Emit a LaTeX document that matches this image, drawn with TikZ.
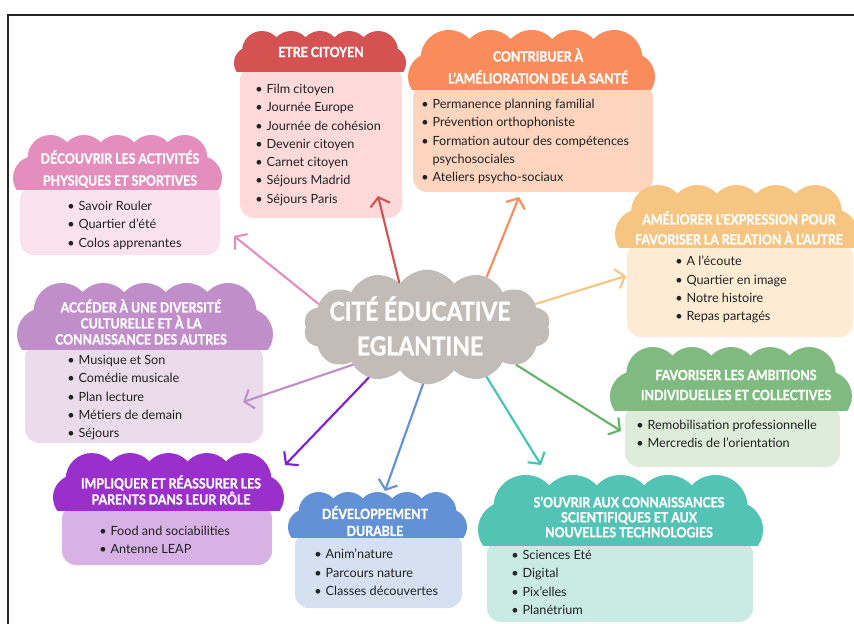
\documentclass[tikz,border=0pt]{standalone}
\usepackage{fontspec}
\setmainfont{Lato}
\newfontfamily\headfont[FakeStretch=0.88, BoldFeatures={FakeBold=1.2}]{Lato}
\usetikzlibrary{arrows.meta, positioning, fit, shapes.symbols}

% colours of the nine themes
\definecolor{citoyenHead}{HTML}{D45252}\definecolor{citoyenBody}{HTML}{FDD9D9}
\definecolor{santeHead}{HTML}{FA8B5B}\definecolor{santeBody}{HTML}{FDD4BE}
\definecolor{sportHead}{HTML}{E38EBC}\definecolor{sportBody}{HTML}{FAE2ED}
\definecolor{exprHead}{HTML}{F6C581}\definecolor{exprBody}{HTML}{FEEBD3}
\definecolor{cultHead}{HTML}{C08EC8}\definecolor{cultBody}{HTML}{EBDCEC}
\definecolor{ambHead}{HTML}{7FBA80}\definecolor{ambBody}{HTML}{DDEDD9}
\definecolor{parHead}{HTML}{9A30CC}\definecolor{parBody}{HTML}{D9B2E5}
\definecolor{durHead}{HTML}{6391D6}\definecolor{durBody}{HTML}{D5E0F1}
\definecolor{sciHead}{HTML}{52C3B5}\definecolor{sciBody}{HTML}{C9EBE3}
\definecolor{hubGrey}{HTML}{C2BCB8}
\definecolor{txtCol}{HTML}{222222}
\definecolor{violetArrow}{HTML}{7D1FD6}
\definecolor{tealArrow}{HTML}{40C5B7}
\definecolor{greenArrow}{HTML}{67B26A}

\newcommand{\blt}[1]{\makebox[8.5pt][l]{\textbullet}#1}
\newcommand{\nob}{\hspace*{8.5pt}}

% scalloped header: left x, right x, top y, base y, bumps, colour
\newcommand{\cloudhead}[6]{%
  \pgfmathsetmacro{\hh}{#4-#3}%
  \pgfmathsetmacro{\rs}{0.4*\hh}%
  \pgfmathsetmacro{\ca}{#1+1.7*\rs}%
  \pgfmathsetmacro{\cb}{#2-1.7*\rs}%
  \pgfmathsetmacro{\dd}{(\cb-\ca)/(#5-1)}%
  \pgfmathsetmacro{\rt}{min(0.68*\dd,0.5*\hh)}%
  \begin{scope}
    \clip (#1-10,#3-10) rectangle (#2+10,#4);
    \fill[#6] (#1+\rs,#4-0.55*\rs) circle[radius=\rs];
    \fill[#6] (#2-\rs,#4-0.55*\rs) circle[radius=\rs];
    \fill[#6] (#1+\rs,#3+\rt) rectangle (#2-\rs,#4+1);
    \foreach \k in {1,...,#5}
      \fill[#6] ({\ca+(\k-1)*\dd},#3+\rt) circle[radius=\rt];
  \end{scope}}

\tikzset{
  bodybox/.style={rounded corners=10.5pt, inner sep=0pt},
  headtext/.style={font=\headfont\bfseries\fontsize{10.5}{#1}\selectfont, text=white, align=center, inner sep=0pt},
  headtext/.default=15pt,
  listtext/.style={font=\fontsize{9.5}{13.7}\selectfont, text=txtCol, align=left, anchor=north west, inner sep=0pt},
  spoke/.style={line width=1.6pt, line cap=round, -{Straight Barb[length=6pt,width=15pt]}},
}

\begin{document}
\begin{tikzpicture}[x=0.75pt, y=-0.75pt]
  \useasboundingbox (0,0) rectangle (854,624);

  % frame
  \draw[line width=1.5pt, black!85] (8,624) -- (8,15) -- (854,15);

  % Etre citoyen
  \node[bodybox, fill=citoyenBody, fit={(240,66) (402,218)}] (citoyen) {};
  \cloudhead{234}{406}{31}{72}{5}{citoyenHead}
  \node[headtext] (citoyenTitle) at (321,52) {ETRE CITOYEN};
  \node[listtext] (citoyenList) at (255,84) {\blt{Film citoyen}\\\blt{Journée Europe}\\\blt{Journée de cohésion}\\\blt{Devenir citoyen}\\\blt{Carnet citoyen}\\\blt{Séjours Madrid}\\\blt{Séjours Paris}};

  % Sante
  \node[bodybox, fill=santeBody, fit={(413,84) (653,192)}] (sante) {};
  \cloudhead{408}{655}{30}{90}{5}{santeHead}
  \node[headtext=16.5pt] (santeTitle) at (538,66) {CONTRIBUER À\\L’AMÉLIORATION DE LA SANTÉ};
  \node[listtext] (santeList) at (421,99) {\blt{Permanence planning familial}\\\blt{Prévention orthophoniste}\\\blt{Formation autour des compétences}\\\nob psychosociales\\\blt{Ateliers psycho-sociaux}};

  % Activites physiques
  \node[bodybox, fill=sportBody, fit={(20,185) (220,255)}] (sport) {};
  \cloudhead{13}{222}{135}{190}{5}{sportHead}
  \node[headtext=16.5pt] (sportTitle) at (120,169) {DÉCOUVRIR LES ACTIVITÉS\\PHYSIQUES ET SPORTIVES};
  \node[listtext] (sportList) at (67,201) {\blt{Savoir Rouler}\\\blt{Quartier d’été}\\\blt{Colos apprenantes}};

  % Expression
  \node[bodybox, fill=exprBody, fit={(627,243) (853,337)}] (expr) {};
  \cloudhead{615}{858}{185}{248}{5}{exprHead}
  \node[headtext=15pt] (exprTitle) at (739,228) {AMÉLIORER L’EXPRESSION POUR\\FAVORISER LA RELATION À L’AUTRE};
  \node[listtext] (exprList) at (675,256) {\blt{A l’écoute}\\\blt{Quartier en image}\\\blt{Notre histoire}\\\blt{Repas partagés}};

  % Diversite culturelle
  \node[bodybox, fill=cultBody, fit={(25,344) (263,443)}] (cult) {};
  \cloudhead{17}{273}{283}{349}{5}{cultHead}
  \node[headtext=12pt] (cultTitle) at (141,322) {ACCÉDER À UNE DIVERSITÉ\\CULTURELLE ET À LA\\CONNAISSANCE DES AUTRES};
  \node[listtext] (cultList) at (67,355) {\blt{Musique et Son}\\\blt{Comédie musicale}\\\blt{Plan lecture}\\\blt{Métiers de demain}\\\blt{Séjours}};

  % Ambitions
  \node[bodybox, fill=ambBody, fit={(625,405) (840,467)}] (amb) {};
  \cloudhead{610}{852}{347}{410}{5}{ambHead}
  \node[headtext=15pt] (ambTitle) at (736,385) {FAVORISER LES AMBITIONS\\INDIVIDUELLES ET COLLECTIVES};
  \node[listtext] (ambList) at (636,420) {\blt{Remobilisation professionnelle}\\\blt{Mercredis de l’orientation}};

  % Parents
  \node[bodybox, fill=parBody, fit={(62,505) (272,565)}] (par) {};
  \cloudhead{53}{284}{453}{510}{5}{parHead}
  \node[headtext=11pt] (parTitle) at (171,490) {IMPLIQUER ET RÉASSURER LES\\PARENTS DANS LEUR RÔLE};
  \node[listtext] (parList) at (99,526) {\blt{Food and sociabilities}\\\blt{Antenne LEAP}};

  % Developpement durable
  \node[bodybox, fill=durBody, fit={(295,532) (462,608)}] (dur) {};
  \cloudhead{288}{467}{492}{537}{5}{durHead}
  \node[headtext=12.75pt] (durTitle) at (375,521) {DÉVELOPPEMENT\\DURABLE};
  \node[listtext] (durList) at (314,549) {\blt{Anim’nature}\\\blt{Parcours nature}\\\blt{Classes découvertes}};

  % Sciences
  \node[bodybox, fill=sciBody, fit={(487,540) (753,622)}] (sci) {};
  \cloudhead{478}{763}{475}{545}{5}{sciHead}
  \node[headtext=11.25pt] (sciTitle) at (629,517) {S’OUVRIR AUX CONNAISSANCES\\SCIENTIFIQUES ET AUX\\NOUVELLES TECHNOLOGIES};
  \node[listtext] (sciList) at (511,550) {\blt{Sciences Eté}\\\blt{Digital}\\\blt{Pix’elles}\\\blt{Planétrium}};

  % Centre
  \node[cloud, cloud puffs=14, cloud puff arc=110, fill=hubGrey, minimum width=185pt, minimum height=86pt, inner sep=0pt] (hub) at (427,327) {};
  \node[font=\headfont\bfseries\fontsize{19.5}{26}\selectfont, text=white, align=center] (hubTitle) at (420,326) {CITÉ ÉDUCATIVE\\EGLANTINE};

  % arrow tips
  \coordinate (citoyenTip) at (378,196);
  \coordinate (santeTip) at (519,197);
  \coordinate (sportTip) at (234,236);
  \coordinate (exprTip) at (626,276);
  \coordinate (cultTip) at (243,402);
  \coordinate (parTip) at (285,465);
  \coordinate (durTip) at (385,491);
  \coordinate (sciTip) at (541,465);
  \coordinate (ambTip) at (621,431);

  % Connections
  \draw[spoke, citoyenHead] (hub.122) -- (citoyenTip);
  \draw[spoke, santeHead] (hub.40) -- (santeTip);
  \draw[spoke, sportHead] (hub.168) -- (sportTip);
  \draw[spoke, exprHead] (hub.12) -- (exprTip);
  \draw[spoke, cultHead] (hub.207) -- (cultTip);
  \draw[spoke, violetArrow] (hub.221) -- (parTip);
  \draw[spoke, durHead] (hub.266) -- (durTip);
  \draw[spoke, tealArrow] (hub.320) -- (sciTip);
  \draw[spoke, greenArrow] (hub.337) -- (ambTip);
\end{tikzpicture}
\end{document}
